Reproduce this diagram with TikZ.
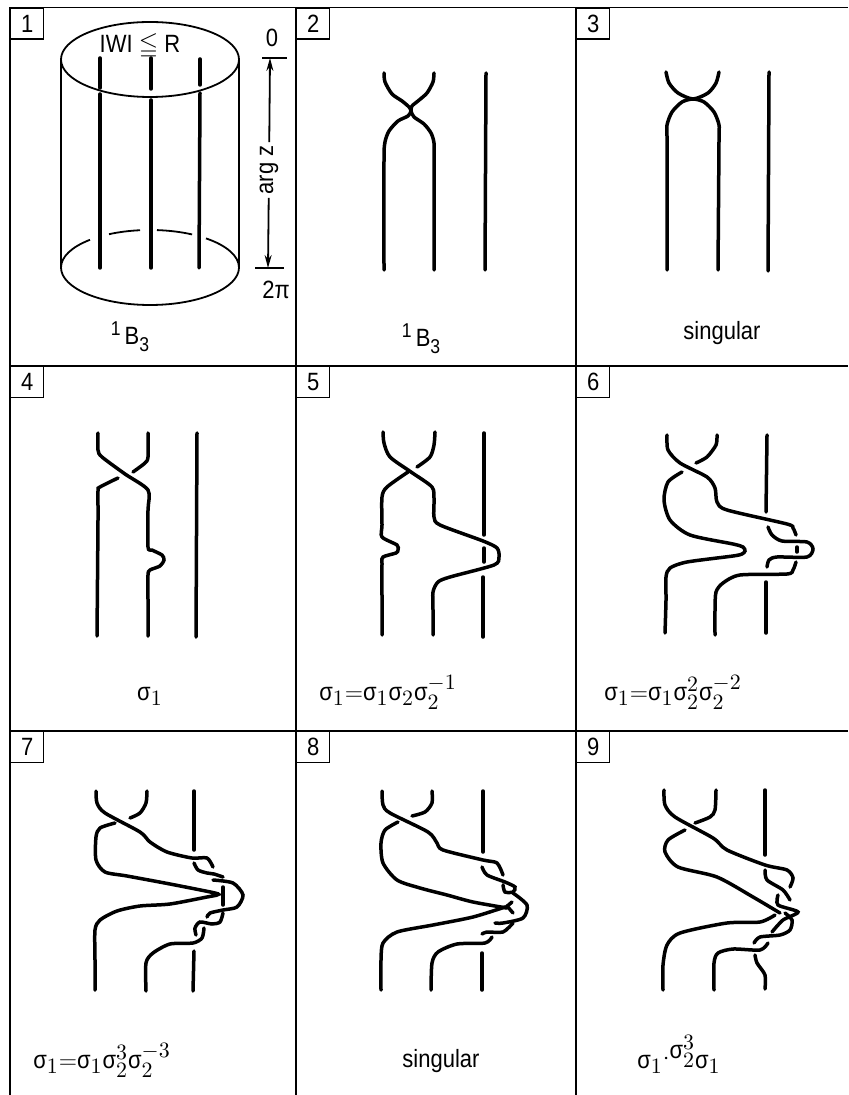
\documentclass[tikz,border=0pt]{standalone}
\usepackage{amssymb}
\usepackage{fontspec}
\setmainfont[FakeStretch=0.88]{Liberation Sans}
\usetikzlibrary{arrows.meta}
\SetSymbolFont{operators}{normal}{TU}{\rmdefault}{m}{n}
\DeclareMathSizes{12.5}{12.5}{10.5}{9}
\tikzset{
  frameline/.style={line width=0.7pt},
  numbox/.style={draw,line width=0.7pt,anchor=north west,minimum width=16.5pt,minimum height=15.5pt,inner sep=0pt,font=\fontsize{12.5}{12.5}\selectfont},
  strand/.style={line width=1.75pt,line cap=round},
  thinline/.style={line width=0.9pt},
  panellabel/.style={font=\fontsize{12.5}{14}\selectfont,inner sep=0pt,anchor=base},
  zarrow/.style={thinline,-{Stealth[length=6.5pt,width=3.5pt]}},
}
\newcommand{\braid}[1]{plot[smooth,tension=0.45] coordinates {#1}}
\newcommand{\sg}{\mbox{σ}}
\newcommand{\bthree}{\raisebox{4.5pt}{\fontsize{10}{10}\selectfont 1}\,B\raisebox{-3.5pt}{\fontsize{10}{10}\selectfont 3}}
\begin{document}
\begin{tikzpicture}[x=0.5pt,y=-0.5pt]
\useasboundingbox (0,0) rectangle (848,1095);

% Frame
\draw[frameline] (10,7.5) -- (848,7.5);
\draw[frameline] (10,366) -- (848,366);
\draw[frameline] (10,731) -- (848,731);
\draw[frameline] (10,7.5) -- (10,1095);
\draw[frameline] (296,7.5) -- (296,1095);
\draw[frameline] (576,7.5) -- (576,1095);

% Numbers
\node[numbox] (n1) at (10,7.5) {1};
\node[numbox] (n2) at (296,7.5) {2};
\node[numbox] (n3) at (576,7.5) {3};
\node[numbox] (n4) at (10,366) {4};
\node[numbox] (n5) at (296,366) {5};
\node[numbox] (n6) at (576,366) {6};
\node[numbox] (n7) at (10,731) {7};
\node[numbox] (n8) at (296,731) {8};
\node[numbox] (n9) at (576,731) {9};

% 1: cylinder
\draw[thinline] (150,59.5) ellipse [x radius=89,y radius=37.5];
\draw[thinline] (61,59) -- (61,268);
\draw[thinline] (239,59) -- (239,268);
\draw[thinline] (61,267.5) arc [start angle=180,end angle=0,x radius=89,y radius=37.5];
\draw[thinline] (61,267.5) arc [start angle=180,end angle=227.6,x radius=89,y radius=37.5];
\draw[thinline] (109,234.2) arc [start angle=242.6,end angle=263.6,x radius=89,y radius=37.5];
\draw[thinline] (157,230.1) arc [start angle=274.5,end angle=298.2,x radius=89,y radius=37.5];
\draw[thinline] (206,238.4) arc [start angle=309,end angle=360,x radius=89,y radius=37.5];
\draw[strand] (100,58) -- (100,88);
\draw[strand] (100,94) -- (100,268);
\draw[strand] (151,58) -- (151,89);
\draw[strand] (151,100) -- (151,268);
\draw[strand] (200,59) -- (200,85);
\draw[strand] (200,93) -- (199,268);
\node[panellabel] (wlabel) at (140,53) {IWI $\leqq$ R};
\node[panellabel] (zero) at (272,47) {0};
\node[panellabel] (twopi) at (276,299) {2π};
\node[font=\fontsize{12.5}{14}\selectfont,inner sep=1.5pt,rotate=90] (argz) at (269,170) {arg z};
\coordinate (ztop) at (270,58);
\coordinate (zbot) at (268,268);
\draw[thinline] (262,58) -- (287,58);
\draw[thinline] (255,268) -- (284,268);
\draw[zarrow] (argz) -- (ztop);
\draw[zarrow] (argz) -- (zbot);
\node[panellabel] (lab1) at (130,345) {\bthree};

% 2: 1B3
\draw[strand] \braid{(384,73) (385,82) (392,94) (402,101) (409,107) (411,111) (408,116) (398,121) (389,131) (385,142) (384,160) (384,270)};
\draw[strand] \braid{(434,73) (433,82) (427,93) (418,101) (412,106) (411,111) (414,117) (424,124) (431,133) (434,143) (434,160) (434,270)};
\draw[strand] (486,73) -- (485,270);
\node[panellabel] (lab2) at (421,347) {\bthree};

% 3: singular
\draw[strand] \braid{(666,72) (669,83) (678,93) (693,99) (708,93) (716,83) (719,72)};
\draw[strand] \braid{(667,270) (667,140) (667,125) (672,112) (682,102) (693,99) (704,102) (714,112) (719,125) (719,140) (718,270)};
\draw[strand] (769,72) -- (768,271);
\node[panellabel] (lab3) at (722,340) {singular};

% 4
\draw[strand] \braid{(98,433) (98,450) (102,457) (125,474) (148,490) (148,510) (148,547) (152,550) (162,555) (164,560) (160,566) (150,570) (148,575) (148,600) (148,636)};
\draw[strand] \braid{(148,433) (148,457) (145,463) (133,472)};
\draw[strand] \braid{(118,478) (100,487) (98,491) (98,520) (97,636)};
\draw[strand] (197,433) -- (196,637);
\node[panellabel] (lab4) at (150,700) {$\sg_1$};

% 5
\draw[strand] \braid{(383,432) (384,443) (390,457) (411,472) (432,487) (434,500) (434,517) (440,525) (483,541) (497,548) (499,557) (494,565) (450,577) (438,582) (433,592) (433,610) (433,635)};
\draw[strand] \braid{(435,432) (434,445) (430,457) (417,467)};
\draw[strand] \braid{(408,472) (387,487) (382,497) (382,525) (382,537) (397,545) (398,550) (396,553) (383,557) (382,564) (382,600) (382,635)};
\draw[strand] (484,433) -- (484,535);
\draw[strand] (484,548) -- (484,562);
\draw[strand] (483,577) -- (483,637);
\node[panellabel] (lab5) at (388,700) {$\sg_1{=}\sg_1\sg_2\sg_2^{-1}$};

% 6
\draw[strand] \braid{(667,435) (668,450) (680,463) (707,477) (715,488) (717,502) (727,510) (787,524) (793,528) (796,535)};
\draw[strand] \braid{(717,435) (716,445) (707,457) (696,463)};
\draw[strand] \braid{(682,472) (668,482) (664,500) (670,520) (690,535) (733,544) (743,547) (745,551) (742,554) (733,556) (687,562) (670,568) (666,577) (666,600) (665,633)};
\draw[strand] \braid{(768,527) (772,535) (782,541) (807,542) (813,549) (807,557) (777,557) (769,560) (767,567)};
\draw[strand] (797,547) -- (797,552);
\draw[strand] \braid{(796,562) (793,570) (787,574) (740,575) (723,583) (716,592) (715,610) (715,635)};
\draw[strand] (767,435) -- (766,512);
\draw[strand] (766,582) -- (766,633);
\node[panellabel] (lab6) at (673,700) {$\sg_1{=}\sg_1\sg_2^2\sg_2^{-2}$};

% 7
\draw[strand] \braid{(96,791) (97,803) (105,813) (140,832) (150,842) (167,852) (192,858) (207,858) (213,867)};
\draw[strand] \braid{(147,791) (146,803) (140,813) (130,818)};
\draw[strand] \braid{(115,823) (100,828) (96,837) (96,860) (105,872) (127,876) (170,884) (215,893) (217,895) (207,897) (170,904) (140,906) (117,911) (100,920) (95,930) (95,960) (95,990)};
\draw[strand] \braid{(194,863) (198,870) (207,873) (214,874) (223,877)};
\draw[strand] \braid{(213,880) (233,883) (243,895) (237,907) (223,910) (210,913) (207,917)};
\draw[strand] (223,887) -- (223,905);
\draw[strand] \braid{(223,913) (220,922) (212,924) (200,922) (195,928) (196,935)};
\draw[strand] \braid{(204,928) (202,938) (193,943) (170,944) (153,953) (146,963) (146,991)};
\draw[strand] (194,791) -- (194,850);
\draw[strand] (194,951) -- (193,991);
\node[panellabel] (lab7) at (102,1068) {$\sg_1{=}\sg_1\sg_2^3\sg_2^{-3}$};

% 8
\draw[strand] \braid{(382,791) (383,805) (390,813) (428,832) (437,843) (443,850) (483,860) (497,863) (503,875)};
\draw[strand] \braid{(432,791) (432,803) (425,812) (412,816)};
\draw[strand] \braid{(398,822) (385,830) (381,843) (383,863) (397,880) (420,888) (447,895) (473,902) (507,908)};
\draw[strand] \braid{(505,907) (473,917) (433,925) (397,932) (383,943) (381,960) (381,990)};
\draw[strand] \braid{(482,867) (487,875) (505,882) (515,887) (513,892) (505,892) (503,885)};
\draw[strand] \braid{(513,893) (527,905) (523,918) (503,923) (495,923)};
\draw[strand] (512,902) -- (505,908);
\draw[strand] (507,906) -- (513,913);
\draw[strand] \braid{(513,923) (503,932) (487,932) (482,934)};
\draw[strand] \braid{(492,937) (485,943) (457,944) (438,952) (432,963) (431,990)};
\draw[strand] (483,791) -- (483,852);
\draw[strand] (482,953) -- (482,990);
\node[panellabel] (lab8) at (441,1067) {singular};

% 9
\draw[strand] \braid{(664,790) (665,805) (675,817) (713,838) (727,850) (765,865) (787,870) (793,878) (790,887)};
\draw[strand] \braid{(716,790) (715,810) (710,817) (695,823)};
\draw[strand] \braid{(685,830) (668,840) (665,852) (678,867) (717,877) (753,897) (780,913)};
\draw[strand] \braid{(775,915) (760,922) (727,923) (680,933) (667,945) (663,965) (663,990)};
\draw[strand] \braid{(765,870) (767,880) (783,890) (790,900)};
\draw[strand] \braid{(778,895) (778,905) (798,912) (783,920) (772,932)};
\draw[strand] \braid{(785,913) (792,920) (790,930) (780,935) (760,937) (754,943)};
\draw[strand] \braid{(768,943) (760,950) (733,949) (718,953) (714,963) (714,990)};
\draw[strand] (765,790) -- (765,855);
\draw[strand] \braid{(755,955) (757,963) (765,975) (765,989)};
\node[panellabel] (lab9) at (679,1068) {$\sg_1$\raisebox{2pt}{$\cdot$}\raisebox{5pt}{$\sg_2^3$}$\sg_1$};

\end{tikzpicture}
\end{document}
